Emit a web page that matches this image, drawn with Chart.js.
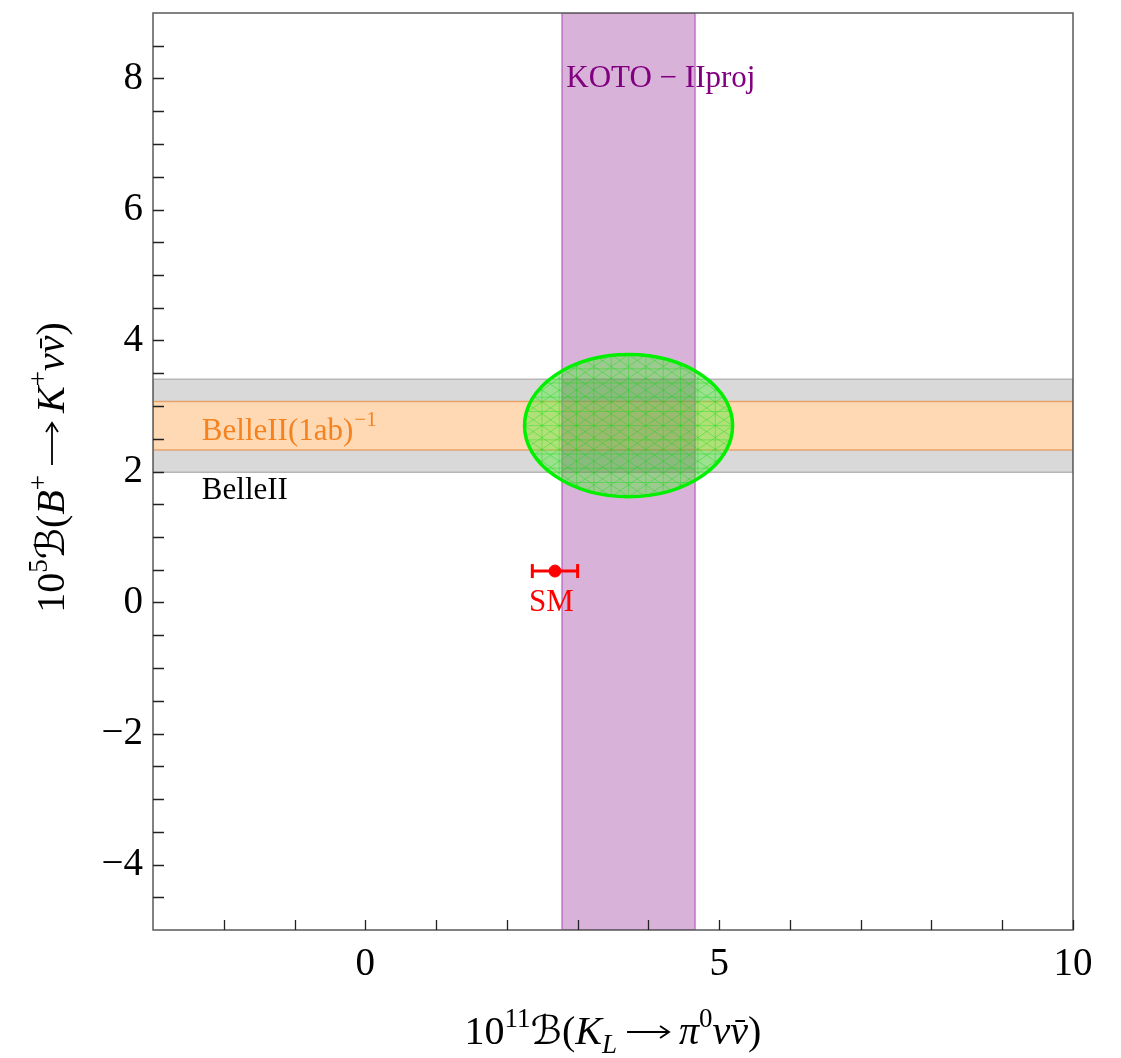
<!DOCTYPE html>
<html>
<head>
<meta charset="utf-8">
<script src="https://cdn.jsdelivr.net/npm/chart.js@4.4.1/dist/chart.umd.min.js"></script>
<style>
	html, body { margin: 0; padding: 0; background: #fff; }
	canvas { display: block; }
</style>
</head>
<body>
<canvas id="chart" width="1121" height="1058"></canvas>
<script>
// axis ranges and ticks
var xRange = [-3, 10];
var yRange = [-5, 9];
var xMajorTicks = [0, 5, 10];
var yMajorTicks = [-4, -2, 0, 2, 4, 6, 8];
var xMinorTicks = [-2, -1, 0, 1, 2, 3, 4, 5, 6, 7, 8, 9, 10];
var yMinorTicks = [-4.5, -4, -3.5, -3, -2.5, -2, -1.5, -1, -0.5, 0, 0.5, 1, 1.5, 2, 2.5, 3, 3.5, 4, 4.5, 5, 5.5, 6, 6.5, 7, 7.5, 8, 8.5];

// measurements / projections
var belleBand = [1.99, 3.41];      // B -> K nu nubar, BelleII
var belle1abBand = [2.33, 3.07];   // BelleII (1ab)^-1
var kotoBand = [2.78, 4.66];       // KOTO-II projection
var fitCenter = [3.72, 2.70];
var fitRadii = [1.47, 1.085];
var smPoint = [2.68, 0.48];
var smXErr = [2.36, 3.0];

var serif = "'Liberation Serif', 'DejaVu Serif', 'DejaVu Sans', serif";

function box(x0, x1, y0, y1) {
	return [{x: x0, y: y1}, {x: x1, y: y1}, {x: x1, y: y0}, {x: x0, y: y0}, {x: x0, y: y1}];
}

function fmtTick(v) {
	return v < 0 ? '\u2212' + Math.abs(v) : String(v);
}

function fontOf(r) {
	return (r.i ? 'italic ' : '') + r.s + 'px ' + serif;
}

function drawRich(ctx, runs, x, y, align, rotate, color) {
	ctx.save();
	ctx.translate(x, y);
	if(rotate) ctx.rotate(-Math.PI / 2);
	var total = 0;
	runs.forEach(function(r) {
		ctx.font = fontOf(r);
		r.w = r.arrow ? r.arrow : ctx.measureText(r.t).width;
		total += r.w;
	});
	var cx = align === 'center' ? -total / 2 : 0;
	ctx.textAlign = 'left';
	ctx.textBaseline = 'alphabetic';
	ctx.fillStyle = color;
	ctx.strokeStyle = color;
	runs.forEach(function(r) {
		if(r.arrow) {
			// thin long arrow
			var x0 = cx + 10, x1 = cx + r.w - 10, ay = -r.s * 0.3;
			ctx.lineWidth = 1.8;
			ctx.beginPath();
			ctx.moveTo(x0, ay);
			ctx.lineTo(x1, ay);
			ctx.moveTo(x1 - 9, ay - 6);
			ctx.lineTo(x1, ay);
			ctx.lineTo(x1 - 9, ay + 6);
			ctx.stroke();
		} else {
			ctx.font = fontOf(r);
			ctx.fillText(r.t, cx, r.dy || 0);
			if(r.bar) {
				ctx.fillRect(cx + r.w * 0.28, -r.s * 0.6, r.w * 0.55, Math.max(1.5, r.s * 0.05));
			}
		}
		cx += r.w;
	});
	ctx.restore();
}

var xTitle = [
	{t: '10', s: 40}, {t: '11', s: 27, dy: -17}, {t: '\u212C', s: 40}, {t: '(', s: 40},
	{t: 'K', s: 40, i: true}, {t: 'L', s: 27, i: true, dy: 9}, {arrow: 62, s: 40},
	{t: '\u03C0', s: 40, i: true}, {t: '0', s: 27, dy: -17}, {t: '\u03BD', s: 40, i: true},
	{t: '\u03BD', s: 40, i: true, bar: true}, {t: ')', s: 40}
];
var yTitle = [
	{t: '10', s: 40}, {t: '5', s: 27, dy: -17}, {t: '\u212C', s: 40}, {t: '(', s: 40},
	{t: 'B', s: 40, i: true}, {t: '+', s: 27, dy: -17}, {arrow: 62, s: 40},
	{t: 'K', s: 40, i: true}, {t: '+', s: 27, dy: -17}, {t: '\u03BD', s: 40, i: true},
	{t: '\u03BD', s: 40, i: true, bar: true}, {t: ')', s: 40}
];

var decor = {
	id: 'decor',
	afterDatasetsDraw: function(chart) {
		var ctx = chart.ctx, a = chart.chartArea;
		var xs = chart.scales.x, ys = chart.scales.y;

		// fit ellipse
		var cx = xs.getPixelForValue(fitCenter[0]);
		var cy = ys.getPixelForValue(fitCenter[1]);
		var rx = Math.abs(xs.getPixelForValue(fitCenter[0] + fitRadii[0]) - cx);
		var ry = Math.abs(ys.getPixelForValue(fitCenter[1] + fitRadii[1]) - cy);
		ctx.save();
		ctx.beginPath();
		ctx.ellipse(cx, cy, rx, ry, 0, 0, Math.PI * 2);
		ctx.fillStyle = 'rgba(70, 235, 40, 0.42)';
		ctx.fill();
		ctx.clip();
		// mesh lines
		ctx.strokeStyle = 'rgba(0, 220, 0, 0.35)';
		ctx.lineWidth = 1;
		ctx.beginPath();
		var i, nx = 6, ny = 5;
		for(i = -ny; i <= ny; i++) {
			ctx.moveTo(cx - rx, cy + i * ry / ny);
			ctx.lineTo(cx + rx, cy + i * ry / ny);
		}
		for(i = -nx; i <= nx; i++) {
			ctx.moveTo(cx + i * rx / nx, cy - ry);
			ctx.lineTo(cx + i * rx / nx, cy + ry);
		}
		for(i = -2 * nx; i <= 2 * nx; i++) {
			ctx.moveTo(cx + i * rx / nx - rx, cy - ry);
			ctx.lineTo(cx + i * rx / nx + rx, cy + ry);
			ctx.moveTo(cx + i * rx / nx + rx, cy - ry);
			ctx.lineTo(cx + i * rx / nx - rx, cy + ry);
		}
		ctx.stroke();
		ctx.restore();
		ctx.save();
		ctx.beginPath();
		ctx.ellipse(cx, cy, rx, ry, 0, 0, Math.PI * 2);
		ctx.strokeStyle = '#00f000';
		ctx.lineWidth = 3.5;
		ctx.stroke();
		ctx.restore();

		// frame
		ctx.save();
		ctx.strokeStyle = '#5a5a5a';
		ctx.lineWidth = 1.5;
		ctx.strokeRect(a.left, a.top, a.right - a.left, a.bottom - a.top);
		// inward ticks
		ctx.strokeStyle = '#222';
		ctx.lineWidth = 1.3;
		ctx.beginPath();
		xMinorTicks.forEach(function(v) {
			var px = Math.round(xs.getPixelForValue(v)) + 0.5;
			ctx.moveTo(px, a.bottom);
			ctx.lineTo(px, a.bottom - 10);
		});
		yMinorTicks.forEach(function(v) {
			var py = Math.round(ys.getPixelForValue(v)) + 0.5;
			ctx.moveTo(a.left, py);
			ctx.lineTo(a.left + 11, py);
		});
		ctx.stroke();
		ctx.restore();

		// text labels
		ctx.save();
		ctx.textAlign = 'left';
		ctx.textBaseline = 'alphabetic';
		ctx.font = '31px ' + serif;
		ctx.fillStyle = '#800080';
		ctx.fillText('KOTO \u2212 IIproj', xs.getPixelForValue(2.84), ys.getPixelForValue(7.87));
		ctx.fillStyle = '#000';
		ctx.fillText('BelleII', xs.getPixelForValue(-2.31), ys.getPixelForValue(1.58));
		ctx.fillStyle = '#f5821f';
		var bx = xs.getPixelForValue(-2.31), by = ys.getPixelForValue(2.48);
		ctx.fillText('BelleII(1ab)', bx, by);
		var bw = ctx.measureText('BelleII(1ab)').width;
		ctx.font = '21px ' + serif;
		ctx.fillText('\u22121', bx + bw + 1, by - 14);
		ctx.font = '31px ' + serif;
		ctx.fillStyle = '#f00';
		ctx.textAlign = 'center';
		ctx.fillText('SM', xs.getPixelForValue(2.63), ys.getPixelForValue(-0.13));
		ctx.restore();

		// axis titles
		drawRich(ctx, xTitle, (a.left + a.right) / 2, 1044, 'center', false, '#000');
		drawRich(ctx, yTitle, 64, (a.top + a.bottom) / 2 - 4, 'center', true, '#000');
	}
};

var tickFont = {family: serif, size: 39, lineHeight: 1};

new Chart(document.getElementById('chart'), {
	type: 'scatter',
	data: {
		datasets: [
			{
				label: 'SM',
				data: [{x: smPoint[0], y: smPoint[1]}],
				pointRadius: 6,
				pointBackgroundColor: '#f00',
				pointBorderColor: '#f00',
				order: 0
			},
			{
				label: 'SM error',
				data: [{x: smXErr[0], y: smPoint[1]}, {x: smXErr[1], y: smPoint[1]}],
				showLine: true,
				borderColor: '#f00',
				borderWidth: 3,
				pointStyle: 'line',
				rotation: 90,
				pointRadius: 7,
				pointBorderWidth: 3,
				pointBorderColor: '#f00',
				order: 1
			},
			{
				label: 'KOTO-IIproj',
				data: box(kotoBand[0], kotoBand[1], yRange[0], yRange[1]),
				showLine: true,
				fill: 'shape',
				backgroundColor: 'rgba(128, 0, 128, 0.3)',
				borderColor: 'rgba(170, 80, 180, 0.55)',
				borderWidth: 2,
				pointRadius: 0,
				order: 2
			},
			{
				label: 'BelleII(1ab)^-1',
				data: box(xRange[0], xRange[1], belle1abBand[0], belle1abBand[1]),
				showLine: true,
				fill: 'shape',
				backgroundColor: '#fed9b4',
				borderColor: '#e8a46c',
				borderWidth: 1.5,
				pointRadius: 0,
				order: 3
			},
			{
				label: 'BelleII',
				data: box(xRange[0], xRange[1], belleBand[0], belleBand[1]),
				showLine: true,
				fill: 'shape',
				backgroundColor: '#d9d9d9',
				borderColor: '#b6b6b6',
				borderWidth: 1.5,
				pointRadius: 0,
				order: 4
			}
		]
	},
	options: {
		responsive: false,
		animation: false,
		devicePixelRatio: 1,
		layout: {padding: {top: 13, right: 48, left: 0, bottom: 0}},
		plugins: {legend: {display: false}, tooltip: {enabled: false}},
		scales: {
			x: {
				type: 'linear',
				min: xRange[0],
				max: xRange[1],
				grid: {display: false, drawTicks: false},
				border: {display: false},
				afterBuildTicks: function(s) { s.ticks = xMajorTicks.map(function(v) { return {value: v}; }); },
				afterFit: function(s) { s.height = 128; s.paddingLeft = 0; s.paddingRight = 0; },
				ticks: {font: tickFont, color: '#000', padding: 15, maxRotation: 0, autoSkip: false, callback: fmtTick}
			},
			y: {
				type: 'linear',
				min: yRange[0],
				max: yRange[1],
				grid: {display: false, drawTicks: false},
				border: {display: false},
				afterBuildTicks: function(s) { s.ticks = yMajorTicks.map(function(v) { return {value: v}; }); },
				afterFit: function(s) { s.width = 153; s.paddingTop = 0; s.paddingBottom = 0; },
				ticks: {font: tickFont, color: '#000', padding: 10, autoSkip: false, callback: fmtTick}
			}
		}
	},
	plugins: [decor]
});
</script>
</body>
</html>
